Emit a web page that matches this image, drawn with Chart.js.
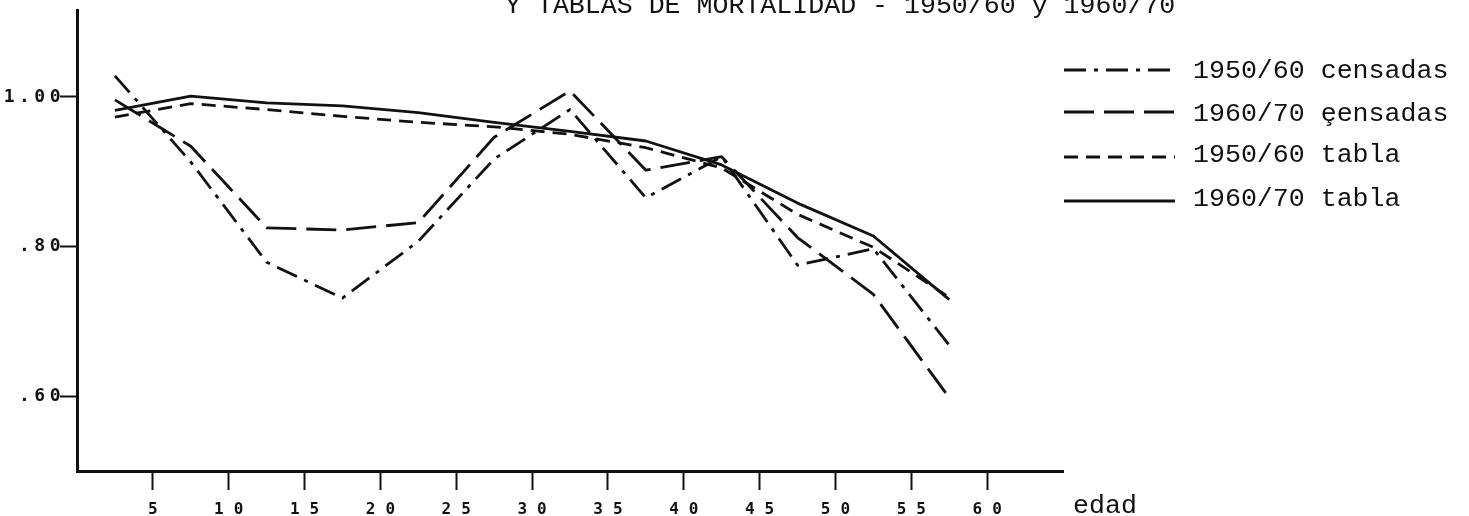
<!DOCTYPE html>
<html>
<head>
<meta charset="utf-8">
<script src="https://cdn.jsdelivr.net/npm/chart.js@4.4.1/dist/chart.umd.min.js"></script>
<style>
html,body{margin:0;padding:0;background:#fff;}
#wrap{width:1469px;height:516px;position:relative;}
canvas{display:block;}
</style>
</head>
<body>
<div id="wrap"><canvas id="c" width="1469" height="516"></canvas></div>
<script>
// ---- data ----
const titleText = 'Y TABLAS DE MORTALIDAD - 1950/60 y 1960/70';
const xAxisTitle = 'edad';
const ages = [2.5, 7.5, 12.5, 17.5, 22.5, 27.5, 32.5, 37.5, 42.5, 47.5, 52.5, 57.5];
const seriesNames = ['1950/60 censadas', '1960/70 \u0229ensadas', '1950/60 tabla', '1960/70 tabla'];
const censadas1950 = [1.028, 0.913, 0.779, 0.731, 0.807, 0.917, 0.983, 0.865, 0.920, 0.775, 0.797, 0.668];
const censadas1960 = [0.996, 0.934, 0.825, 0.822, 0.832, 0.946, 1.008, 0.902, 0.920, 0.812, 0.736, 0.598];
const tabla1950    = [0.973, 0.991, 0.983, 0.974, 0.966, 0.960, 0.950, 0.932, 0.905, 0.843, 0.799, 0.732];
const tabla1960    = [0.982, 1.001, 0.992, 0.988, 0.979, 0.966, 0.954, 0.941, 0.909, 0.858, 0.814, 0.729];
const xTickValues = [5, 10, 15, 20, 25, 30, 35, 40, 45, 50, 55, 60];
const xTickLabels = ['5', '10', '15', '20', '25', '30', '35', '40', '45', '50', '55', '60'];
const yTickValues = [0.6, 0.8, 1.0];
const yTickLabels = ['.60', '.80', '1.00'];

// ---- styles ----
const INK = '#111';
const dashes = [[22, 8, 4, 8], [30, 10], [14, 8], []];
const seriesValues = [censadas1950, censadas1960, tabla1950, tabla1960];

const datasets = seriesValues.map((vals, i) => ({
  label: seriesNames[i],
  data: ages.map((a, j) => ({ x: a, y: vals[j] })),
  borderColor: INK,
  borderWidth: 2.8,
  borderDash: dashes[i],
  borderCapStyle: 'butt',
  borderJoinStyle: 'round',
  pointRadius: 0,
  fill: false,
  tension: 0,
  showLine: true
}));

const MONO = '"Liberation Mono", "DejaVu Sans Mono", monospace';

const spacingPlugin = {
  id: 'spacing',
  afterLayout(chart) {
    [['x', '10px', 5], ['y', '4.5px', 5]].forEach(([id, sp, dx]) => {
      const s = chart.scales[id];
      if (!s || s._wrappedLabels) return;
      const orig = s.drawLabels.bind(s);
      s.drawLabels = function (area) {
        const ctx = chart.ctx;
        ctx.save();
        try { ctx.letterSpacing = sp; } catch (e) {}
        ctx.translate(dx, 0);
        orig(area);
        ctx.restore();
      };
      s._wrappedLabels = true;
    });
  }
};

const decorPlugin = {
  id: 'decor',
  afterDraw(chart) {
    const ctx = chart.ctx;
    ctx.save();
    try { ctx.letterSpacing = '0px'; } catch (e) {}
    ctx.fillStyle = INK;
    ctx.font = '26.6px ' + MONO;
    ctx.textAlign = 'left';
    ctx.textBaseline = 'alphabetic';
    // title (cut at top as in the scan)
    ctx.fillText(titleText, 505, 13);
    // legend
    const lineY = [70, 112, 157, 201];
    const textY = [78, 121, 162, 206];
    chart.data.datasets.forEach((ds, i) => {
      ctx.save();
      ctx.strokeStyle = INK;
      ctx.lineWidth = 2.8;
      ctx.setLineDash(ds.borderDash || []);
      ctx.beginPath();
      ctx.moveTo(1064, lineY[i]);
      ctx.lineTo(1175, lineY[i]);
      ctx.stroke();
      ctx.restore();
      ctx.fillText(ds.label, 1193, textY[i]);
    });
    // x axis title
    ctx.fillText(xAxisTitle, 1073, 513);
    ctx.restore();
  }
};

new Chart(document.getElementById('c'), {
  type: 'scatter',
  data: { datasets },
  options: {
    responsive: false,
    animation: false,
    devicePixelRatio: 1,
    layout: { padding: { left: 0, top: 2, right: 406, bottom: 0 } },
    plugins: { legend: { display: false }, tooltip: { enabled: false }, title: { display: false } },
    scales: {
      x: {
        type: 'linear',
        min: 0,
        max: 65,
        afterBuildTicks: (s) => { s.ticks = xTickValues.map(v => ({ value: v })); },
        afterFit: (s) => { s.height = 45; },
        grid: { display: true, drawOnChartArea: false, drawTicks: true, tickLength: 19, tickWidth: 2, tickColor: INK, color: INK },
        border: { display: true, color: INK, width: 3 },
        ticks: {
          autoSkip: false, maxRotation: 0, minRotation: 0, padding: 10,
          color: INK,
          font: { family: 'DejaVu Sans Mono', size: 16, weight: 'bold' },
          callback: (v, i) => xTickLabels[i]
        }
      },
      y: {
        type: 'linear',
        min: 0.5,
        max: 1.115,
        afterBuildTicks: (s) => { s.ticks = yTickValues.map(v => ({ value: v })); },
        afterFit: (s) => { s.width = 77; },
        grid: { display: true, drawOnChartArea: false, drawTicks: true, tickLength: 17, tickWidth: 2, tickColor: INK, color: INK },
        border: { display: true, color: INK, width: 3 },
        ticks: {
          autoSkip: false, padding: 0,
          color: INK,
          font: { family: 'DejaVu Sans Mono', size: 18, weight: 'bold' },
          callback: (v, i) => yTickLabels[i]
        }
      }
    }
  },
  plugins: [spacingPlugin, decorPlugin]
});
</script>
</body>
</html>
